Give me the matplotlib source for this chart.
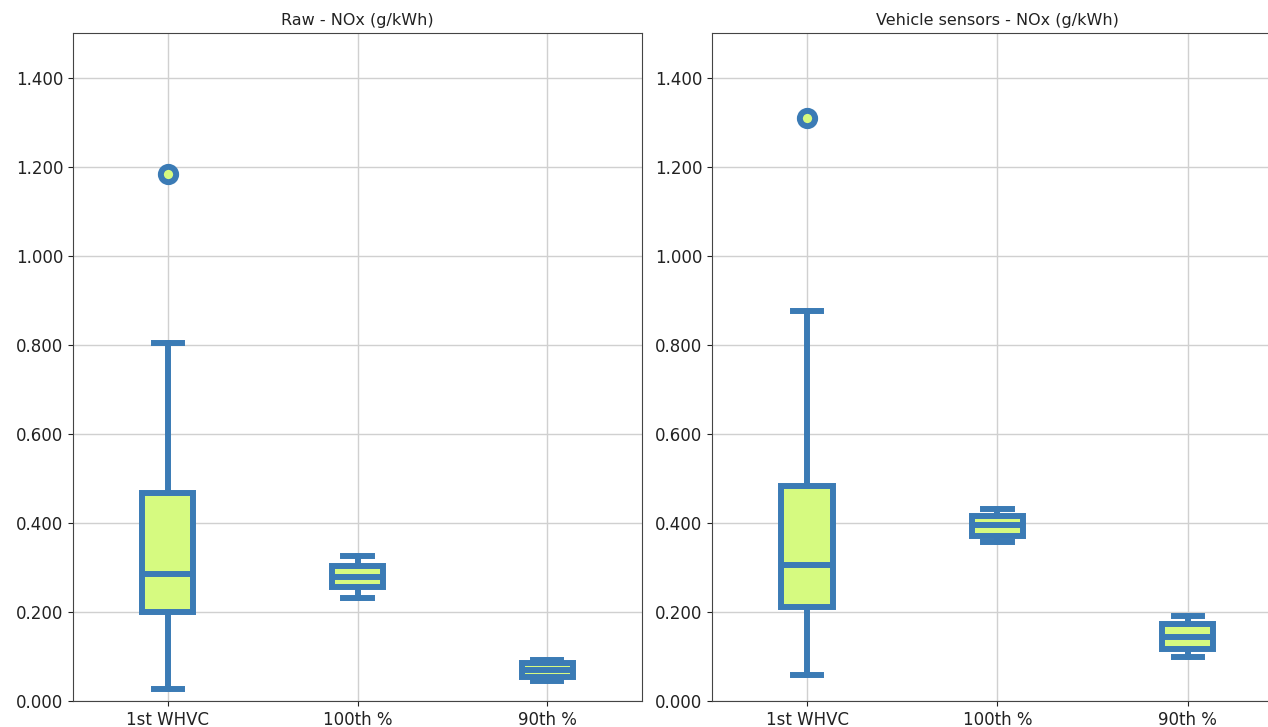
import matplotlib
matplotlib.use("Agg")
import matplotlib.pyplot as plt
from matplotlib.ticker import FuncFormatter

# box statistics (g/kWh)
labels = ["1st WHVC", "100th %", "90th %"]

raw_whislo = [0.027, 0.232, 0.044]
raw_q1 = [0.200, 0.255, 0.053]
raw_med = [0.286, 0.279, 0.070]
raw_q3 = [0.468, 0.303, 0.086]
raw_whishi = [0.803, 0.326, 0.091]
raw_fliers = [[1.184], [], []]

veh_whislo = [0.059, 0.358, 0.099]
veh_q1 = [0.212, 0.371, 0.117]
veh_med = [0.306, 0.395, 0.144]
veh_q3 = [0.482, 0.416, 0.173]
veh_whishi = [0.876, 0.430, 0.191]
veh_fliers = [[1.310], [], []]

edge = "#3b7bb5"
face = "#d6fa80"


def make_stats(lo, q1, med, q3, hi, fl):
    return [dict(label=labels[i], whislo=lo[i], q1=q1[i], med=med[i], q3=q3[i],
                 whishi=hi[i], fliers=fl[i]) for i in range(len(labels))]


def draw(ax, stats, title):
    lw = 4.3
    ax.bxp(stats, widths=0.27, capwidths=0.15, patch_artist=True,
           boxprops=dict(facecolor=face, edgecolor=edge, linewidth=lw),
           whiskerprops=dict(color=edge, linewidth=lw),
           capprops=dict(color=edge, linewidth=lw),
           medianprops=dict(color=edge, linewidth=lw),
           flierprops=dict(marker="o", markerfacecolor=face, markeredgecolor=edge,
                           markersize=11, markeredgewidth=4.3))
    ax.set_ylim(0, 1.5)
    ax.set_xlim(0.5, 3.5)
    ax.set_yticks([0, 0.2, 0.4, 0.6, 0.8, 1.0, 1.2, 1.4])
    ax.yaxis.set_major_formatter(FuncFormatter(lambda v, p: f"{v:.3f}"))
    ax.grid(True, color="#d0d0d0", linewidth=1)
    ax.set_axisbelow(True)
    ax.set_title(title, fontsize=11.5, color="#222222")
    ax.tick_params(labelsize=12, colors="#222222")
    for s in ax.spines.values():
        s.set_color("#444444")


fig = plt.figure(figsize=(12.68, 7.27), dpi=100)
ax1 = fig.add_axes([0.0576, 0.0358, 0.4487, 0.9188])
ax2 = fig.add_axes([0.5615, 0.0358, 0.4503, 0.9188])

draw(ax1, make_stats(raw_whislo, raw_q1, raw_med, raw_q3, raw_whishi, raw_fliers),
     "Raw - NOx (g/kWh)")
draw(ax2, make_stats(veh_whislo, veh_q1, veh_med, veh_q3, veh_whishi, veh_fliers),
     "Vehicle sensors - NOx (g/kWh)")

fig.savefig("out.png", dpi=100)
